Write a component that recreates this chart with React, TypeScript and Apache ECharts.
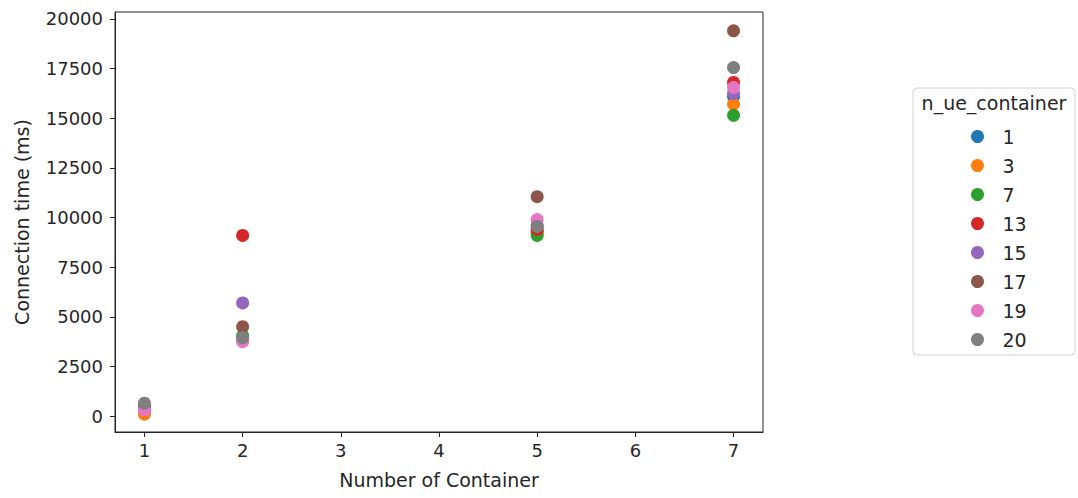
import React, { useEffect, useRef } from "react";
import * as echarts from "echarts";

const containers = [1, 2, 5, 7];
const hueLabels = ["1", "3", "7", "13", "15", "17", "19", "20"];
const colors = ["#1f77b4", "#ff7f0e", "#2ca02c", "#d62728", "#9467bd", "#8c564b", "#e377c2", "#7f7f7f"];
const ue1 = [300, 3900, 9300, 16100];
const ue3 = [100, 3900, 9200, 15700];
const ue7 = [350, 4050, 9100, 15150];
const ue13 = [400, 9100, 9400, 16800];
const ue15 = [450, 5700, 9600, 16250];
const ue17 = [550, 4500, 11050, 19400];
const ue19 = [300, 3750, 9900, 16550];
const ue20 = [650, 3950, 9550, 17550];
const seriesValues = [ue1, ue3, ue7, ue13, ue15, ue17, ue19, ue20];
const xTicks = [1, 2, 3, 4, 5, 6, 7];
const yTicks = [0, 2500, 5000, 7500, 10000, 12500, 15000, 17500, 20000];

const FONT = "DejaVu Sans";
const TXT = "#262626";
const TICK_FS = 18;
const NAME_FS = 19;

export default function App() {
  const ref = useRef<HTMLDivElement>(null);
  useEffect(() => {
    const chart = echarts.init(ref.current!, null, { renderer: "svg" });
    chart.setOption({
      animation: false,
      backgroundColor: "#fff",
      textStyle: { fontFamily: FONT },
      grid: {
        left: 115,
        right: 315,
        top: 12,
        bottom: 66,
        containLabel: false,
        outerBoundsMode: "none",
        show: true,
        borderColor: "#262626",
        borderWidth: 1,
        backgroundColor: "transparent",
      },
      xAxis: {
        type: "value",
        min: 0.7,
        max: 7.3,
        name: "Number of Container",
        nameLocation: "middle",
        nameGap: 38,
        nameTextStyle: { fontFamily: FONT, fontSize: NAME_FS, color: TXT },
        axisLine: { show: true, onZero: false, lineStyle: { color: "#262626" } },
        axisTick: { show: true, length: 5, customValues: xTicks, lineStyle: { color: "#262626" } },
        axisLabel: { customValues: xTicks, fontFamily: FONT, fontSize: TICK_FS, color: TXT, margin: 9, formatter: (v: number) => String(v) },
        splitLine: { show: false },
      },
      yAxis: {
        type: "value",
        min: -800,
        max: 20350,
        name: "Connection time (ms)",
        nameLocation: "middle",
        nameGap: 84,
        nameTextStyle: { fontFamily: FONT, fontSize: NAME_FS, color: TXT },
        axisLine: { show: true, onZero: false, lineStyle: { color: "#262626" } },
        axisTick: { show: true, length: 5, customValues: yTicks, lineStyle: { color: "#262626" } },
        axisLabel: { customValues: yTicks, fontFamily: FONT, fontSize: TICK_FS, color: TXT, margin: 12, formatter: (v: number) => String(v) },
        splitLine: { show: false },
      },
      legend: {
        orient: "vertical",
        left: 971,
        top: 127,
        padding: 0,
        itemWidth: 30,
        itemHeight: 13,
        itemGap: 10,
        icon: "circle",
        data: hueLabels,
        textStyle: { fontFamily: FONT, fontSize: NAME_FS, color: TXT, lineHeight: 16, padding: [0, 0, 0, 5] },
      },
      graphic: [
        {
          type: "rect",
          shape: { x: 913, y: 88, width: 162, height: 267, r: 4 },
          style: { fill: "#fff", stroke: "#d0d0d0", lineWidth: 1 },
          z: -1,
        },
        {
          type: "text",
          x: 994,
          y: 103,
          style: { text: "n_ue_container", fontFamily: FONT, fontSize: NAME_FS, fill: TXT, align: "center", verticalAlign: "middle" },
        },
      ],
      series: hueLabels.map((name, i) => ({
        name,
        type: "scatter",
        symbol: "circle",
        symbolSize: 13,
        itemStyle: { color: colors[i], opacity: 1 },
        data: containers.map((c, j) => [c, seriesValues[i][j]]),
        z: 2 + i,
      })),
    });
    return () => chart.dispose();
  }, []);
  return <div ref={ref} style={{ position: "fixed", left: 0, top: 0, width: 1078, height: 498 }} />;
}
